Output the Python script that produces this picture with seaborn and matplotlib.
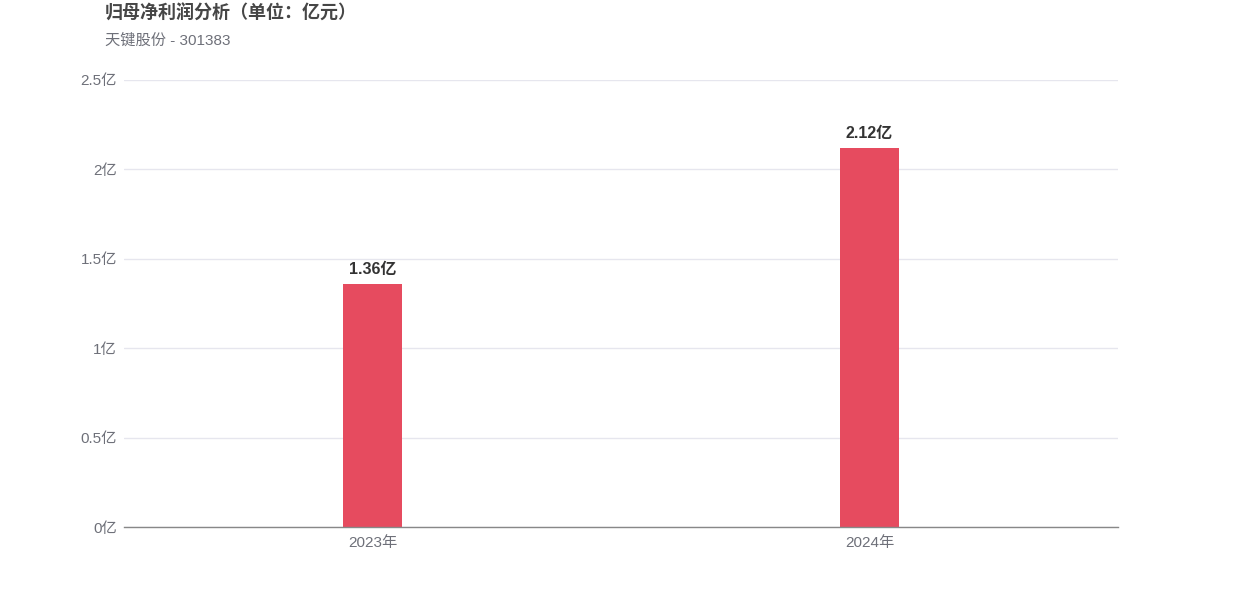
import matplotlib
matplotlib.use("Agg")
import matplotlib.pyplot as plt
import seaborn as sns
import pandas as pd

# data
years = ["2023年", "2024年"]
profit = [1.36, 2.12]  # 亿元
y_ticks = [0, 0.5, 1, 1.5, 2, 2.5]
y_tick_labels = ["0亿", "0.5亿", "1亿", "1.5亿", "2亿", "2.5亿"]

sns.set_theme(style="white")
plt.rcParams["font.family"] = ["Liberation Sans", "Noto Sans CJK SC", "DejaVu Sans"]

df = pd.DataFrame({"year": years, "profit": profit})

fig = plt.figure(figsize=(12.42, 5.96), dpi=100)
ax = fig.add_axes([124 / 1242, 1 - 527 / 596, 994 / 1242, 447 / 596])

sns.barplot(data=df, x="year", y="profit", color="#E64B5F", width=0.119,
            saturation=1, linewidth=0, ax=ax, zorder=3)

for i, v in enumerate(profit):
    ax.text(i, v + 0.04, f"{v:.2f}亿", ha="center", va="bottom",
            fontsize=11.5, fontweight="bold", color="#333333")

ax.set_xlim(-0.5, 1.5)
ax.set_ylim(0, 2.5)
ax.set_yticks(y_ticks)
ax.set_yticklabels(y_tick_labels)
ax.set_xlabel("")
ax.set_ylabel("")
ax.yaxis.grid(True, color="#E6E6EE", linewidth=1, zorder=0)
ax.tick_params(axis="both", length=0, labelsize=11, labelcolor="#6E7079")
ax.tick_params(axis="y", pad=5)
ax.tick_params(axis="x", pad=6.5)
for s in ["top", "right", "left"]:
    ax.spines[s].set_visible(False)
ax.spines["bottom"].set_color("#888888")
ax.spines["bottom"].set_linewidth(1)
ax.spines["bottom"].set_zorder(4)

fig.text(105 / 1242, 1 - 14 / 596, "归母净利润分析（单位：亿元）", ha="left", va="center",
         fontsize=13, fontweight="bold", color="#464646")
fig.text(105 / 1242, 1 - 41 / 596, "天键股份 - 301383", ha="left", va="center",
         fontsize=11, color="#6E7079")

fig.savefig("out.png", dpi=100)
